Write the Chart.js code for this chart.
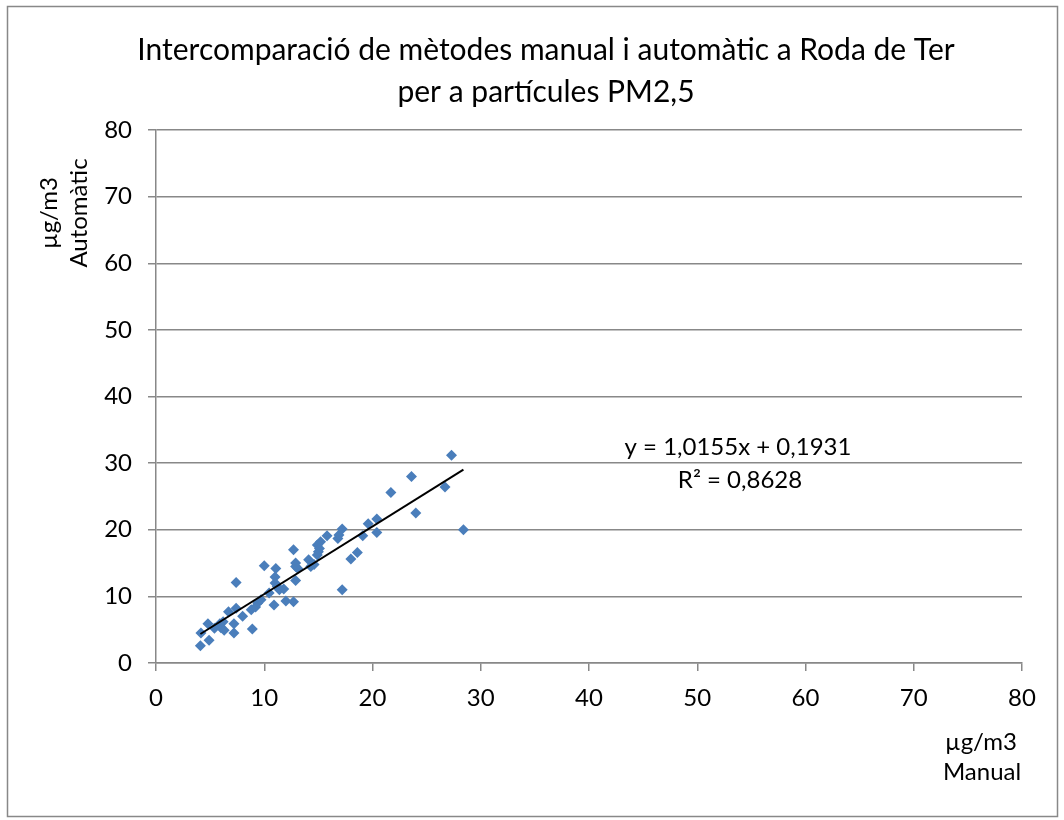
<!DOCTYPE html>
<html lang="ca">

<head>
    <meta charset="UTF-8">
    <title>Intercomparació PM2,5 Roda de Ter</title>
    <style>
        body {
            margin: 0;
            padding: 0;
            background-color: #fff;
        }

        canvas {
            display: block;
        }
    </style>
</head>

<body>
    <canvas id="chart" width="1064" height="820"></canvas>

    <script src="https://cdn.jsdelivr.net/npm/chart.js"></script>

    <script>
        // Data (Manual = x, Automàtic = y)
        var manual = [4.1, 4.15, 4.9, 4.8, 5.4, 5.9, 6.0, 6.2, 6.3, 6.7, 7.2, 7.2, 7.4, 7.4, 8.0, 8.8, 8.9, 9.2, 9.4, 9.7,
            10.0, 10.45, 10.9, 11.07, 11.0, 11.0, 11.2, 11.4, 11.8, 12.0, 12.7, 12.7, 12.9, 12.9, 13.1, 12.9, 14.1, 14.3,
            14.6, 14.9, 15.0, 15.1, 15.2, 14.9, 15.8, 16.8, 16.9, 17.2, 17.2, 18.0, 18.6, 19.1, 19.6, 20.4, 20.4, 21.7,
            23.6, 24.0, 26.7, 27.3, 28.4];
        var automatic = [2.6, 4.5, 3.4, 5.9, 5.2, 5.9, 5.3, 6.2, 4.9, 7.7, 4.5, 5.9, 12.1, 8.2, 7.0, 8.0, 5.1, 8.4, 9.0, 9.5,
            14.6, 10.5, 8.7, 14.2, 12.9, 12.0, 11.5, 11.0, 11.1, 9.3, 9.2, 17.0, 15.0, 14.5, 14.2, 12.4, 15.5, 14.5,
            14.8, 17.7, 16.7, 17.2, 18.2, 16.2, 19.1, 18.7, 19.2, 20.1, 11.0, 15.6, 16.6, 19.1, 20.9, 21.6, 19.6, 25.6,
            28.0, 22.5, 26.4, 31.2, 20.0];

        // Linear trend shown on the chart
        var slope = 1.0155;
        var intercept = 0.1931;
        var equationText = 'y = 1,0155x + 0,1931';
        var r2Text = 'R² = 0,8628';

        var titleLines = ['Intercomparació de mètodes manual i automàtic a Roda de Ter', 'per a partícules PM2,5'];
        var xTitleLines = ['µg/m3', 'Manual'];
        var yTitleLines = ['µg/m3', 'Automàtic'];
        var axisMin = 0, axisMax = 80, axisStep = 10;

        var FONT = 'Lato, "Open Sans", sans-serif';
        var GRID = '#888888';

        var points = manual.map(function (x, i) { return { x: x, y: automatic[i] }; });
        var xMin = Math.min.apply(null, manual);
        var xMax = Math.max.apply(null, manual);
        var trend = [
            { x: xMin, y: slope * xMin + intercept },
            { x: xMax, y: slope * xMax + intercept }
        ];

        // Title, axis titles, trend label and outer frame
        var textPlugin = {
            id: 'textPlugin',
            afterDraw: function (chart) {
                var ctx = chart.ctx;
                ctx.save();
                ctx.strokeStyle = GRID;
                ctx.lineWidth = 1.5;
                ctx.strokeRect(7.5, 6.5, 1050, 810);

                ctx.fillStyle = '#000';
                ctx.textAlign = 'center';
                ctx.textBaseline = 'middle';

                ctx.font = '30px ' + FONT;
                ctx.fillText(titleLines[0], 546, 50);
                ctx.fillText(titleLines[1], 546, 92);

                ctx.font = '24px ' + FONT;
                ctx.fillText(xTitleLines[0], 981, 742);
                ctx.fillText(xTitleLines[1], 982, 772);

                ctx.fillText(equationText, 738, 447);
                ctx.fillText(r2Text, 740, 480);

                ctx.save();
                ctx.translate(49, 213);
                ctx.rotate(-Math.PI / 2);
                ctx.fillText(yTitleLines[0], 0, 0);
                ctx.restore();
                ctx.save();
                ctx.translate(79, 213);
                ctx.rotate(-Math.PI / 2);
                ctx.fillText(yTitleLines[1], 0, 0);
                ctx.restore();

                ctx.restore();
            }
        };

        var ctx = document.getElementById('chart').getContext('2d');
        new Chart(ctx, {
            type: 'scatter',
            data: {
                datasets: [{
                    label: 'Automàtic',
                    data: points,
                    backgroundColor: '#4A7EBB',
                    borderWidth: 0,
                    pointStyle: 'rectRot',
                    pointRadius: 5.5,
                    order: 2
                }, {
                    label: 'Tendència',
                    data: trend,
                    showLine: true,
                    borderColor: '#000',
                    borderWidth: 2,
                    pointRadius: 0,
                    order: 1
                }]
            },
            options: {
                responsive: false,
                animation: false,
                layout: { padding: { top: 130, right: 42, left: 0, bottom: 0 } },
                plugins: {
                    legend: { display: false },
                    tooltip: { enabled: false }
                },
                scales: {
                    x: {
                        type: 'linear',
                        min: axisMin,
                        max: axisMax,
                        ticks: { stepSize: axisStep, padding: 13, color: '#000', font: { family: FONT, size: 24 } },
                        grid: { drawOnChartArea: false, drawTicks: true, tickLength: 8, color: GRID, lineWidth: 1.5 },
                        border: { color: GRID, width: 1.5 },
                        afterFit: function (s) { s.height = 157; }
                    },
                    y: {
                        type: 'linear',
                        min: axisMin,
                        max: axisMax,
                        ticks: { stepSize: axisStep, padding: 16, color: '#000', font: { family: FONT, size: 24 } },
                        grid: { drawTicks: true, tickLength: 8, color: GRID, lineWidth: 1.5 },
                        border: { color: GRID, width: 1.5 },
                        afterFit: function (s) { s.width = 156; }
                    }
                }
            },
            plugins: [textPlugin]
        });
    </script>
</body>

</html>
